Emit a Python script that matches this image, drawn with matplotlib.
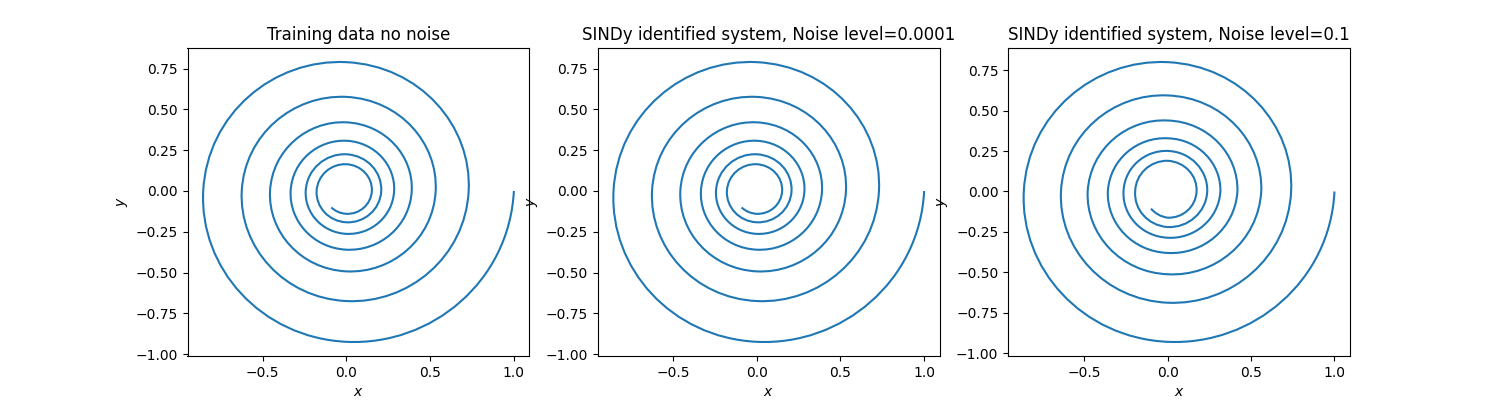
import numpy as np
import matplotlib
matplotlib.use("Agg")
import matplotlib.pyplot as plt
from matplotlib.path import Path
from matplotlib.patches import PathPatch

# spiral: where the curve crosses the axes,
# going clockwise from (1, 0), outer turn first
titles = ["Training data no noise",
          "SINDy identified system, Noise level=0.0001",
          "SINDy identified system, Noise level=0.1"]

right_1 = [1.0, 0.730, 0.533, 0.390, 0.285, 0.208, 0.152]
bottom_1 = [-0.925, -0.675, -0.493, -0.360, -0.263, -0.192, -0.140]
left_1 = [-0.855, -0.625, -0.456, -0.333, -0.243, -0.178]
top_1 = [0.790, 0.577, 0.421, 0.308, 0.225, 0.164]
end_1 = (-0.090, -0.101)

right_2 = [1.0, 0.730, 0.533, 0.390, 0.285, 0.208, 0.152]
bottom_2 = [-0.925, -0.675, -0.493, -0.360, -0.263, -0.192, -0.140]
left_2 = [-0.855, -0.625, -0.456, -0.333, -0.243, -0.178]
top_2 = [0.790, 0.577, 0.421, 0.308, 0.225, 0.164]
end_2 = (-0.090, -0.101)

right_3 = [1.0, 0.740, 0.561, 0.418, 0.316, 0.237, 0.173]
bottom_3 = [-0.930, -0.688, -0.512, -0.380, -0.286, -0.220, -0.162]
left_3 = [-0.863, -0.640, -0.480, -0.359, -0.265, -0.195]
top_3 = [0.800, 0.594, 0.439, 0.329, 0.251, 0.190]
end_3 = (-0.100, -0.106)

panels = [(right_1, bottom_1, left_1, top_1, end_1),
          (right_2, bottom_2, left_2, top_2, end_2),
          (right_3, bottom_3, left_3, top_3, end_3)]


def crossing_points(right, bottom, left, top, end):
    pts = []
    for i in range(len(right)):
        pts.append((right[i], 0.0))
        if i < len(bottom):
            pts.append((0.0, bottom[i]))
        if i < len(left):
            pts.append((left[i], 0.0))
        if i < len(top):
            pts.append((0.0, top[i]))
    pts.append(end)
    return np.array(pts)


def spiral_path(pts):
    # cubic bezier arcs between successive points, turning clockwise,
    # tangents tilted inward like a shrinking spiral
    def direction(p, k):
        r = np.hypot(*p)
        t = np.array([p[1], -p[0]]) / r
        return r * (t - k * p / r)

    verts = [pts[0]]
    codes = [Path.MOVETO]
    for p, q in zip(pts[:-1], pts[1:]):
        theta = (np.arctan2(p[1], p[0]) - np.arctan2(q[1], q[0])) % (2 * np.pi)
        k = np.log(np.hypot(*p) / np.hypot(*q)) / theta
        h = 4.0 / 3.0 * np.tan(theta / 4.0)
        verts += [p + h * direction(p, k), q - h * direction(q, k), q]
        codes += [Path.CURVE4] * 3
    return Path(verts, codes)


fig, axes = plt.subplots(1, 3, figsize=(15, 4))
for ax, title, data in zip(axes, titles, panels):
    pts = crossing_points(*data)
    ax.add_patch(PathPatch(spiral_path(pts), fill=False,
                           edgecolor="C0", linewidth=1.5))
    ax.autoscale_view()
    ax.set_title(title)
    ax.set_xlabel("$x$")
    ax.set_ylabel("$y$")

plt.savefig("out.png", dpi=100)
